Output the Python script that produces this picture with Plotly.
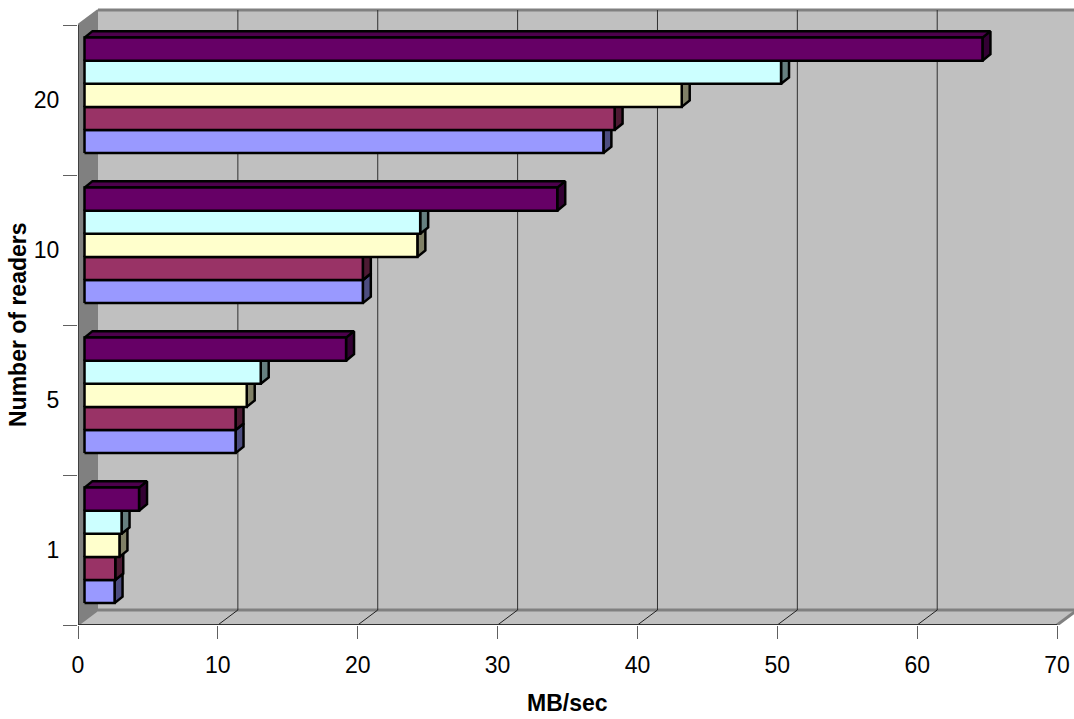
import plotly.graph_objects as go

# Throughput per reader count, one list per series (front to back = bottom to top of each group)
reader_labels = ["1", "5", "10", "20"]
series_a = [2.15, 10.8, 19.9, 37.1]
series_b = [2.2, 10.8, 19.9, 37.9]
series_c = [2.5, 11.6, 23.8, 42.7]
series_d = [2.65, 12.6, 24.0, 49.8]
series_e = [3.9, 18.7, 33.8, 64.2]
x_ticks = [0, 10, 20, 30, 40, 50, 60, 70]

faces = [
    (series_a, "#9999FF", "#7373BF", "#4D4D80"),
    (series_b, "#993366", "#732650", "#4D1A33"),
    (series_c, "#FFFFCC", "#BFBF99", "#808066"),
    (series_d, "#CCFFFF", "#99BFBF", "#668080"),
    (series_e, "#660066", "#4D004D", "#330033"),
]

# Oblique projection of the chart box and of each bar, in axis units
X_MAX, Y_MAX = 71.21, 4.1667
WALL_DX, WALL_DY = 1.43, 0.1
BAR_DX, BAR_DY = 0.57, 0.043
BAR_X0 = 0.465
GROUP_SHIFT = 0.031
BAR_H = 0.154

fig = go.Figure()


def poly(xs, ys, fill):
    fig.add_trace(go.Scatter(
        x=xs + xs[:1], y=ys + ys[:1], mode="lines", fill="toself", fillcolor=fill,
        line=dict(color="#000000", width=2.5), hoverinfo="skip", showlegend=False,
    ))


for k, (values, front, top, side) in enumerate(faces):
    for g, v in enumerate(values):
        y0 = g + 0.5 + GROUP_SHIFT + (k - 2.5) * BAR_H
        y1 = y0 + BAR_H
        x0, x1 = BAR_X0, BAR_X0 + v
        poly([x1, x1 + BAR_DX, x1 + BAR_DX, x1], [y0, y0 + BAR_DY, y1 + BAR_DY, y1], side)
        poly([x0, x0 + BAR_DX, x1 + BAR_DX, x1], [y1, y1 + BAR_DY, y1 + BAR_DY, y1], top)
        poly([x0, x1, x1, x0], [y0, y0, y1, y1], front)


def line(x0, y0, x1, y1, color, width):
    return dict(type="line", layer="below", x0=x0, y0=y0, x1=x1, y1=y1,
                line=dict(color=color, width=width))


def area(path, color):
    return dict(type="path", layer="below", path=path, fillcolor=color, line=dict(width=0))


top_y = 4 + WALL_DY
shapes = [
    area(f"M{WALL_DX},{WALL_DY} L{X_MAX},{WALL_DY} L{X_MAX},{top_y} L{WALL_DX},{top_y} Z", "#C0C0C0"),
    area(f"M0,0 L{WALL_DX},{WALL_DY} L{WALL_DX},{top_y} L0,4 Z", "#808080"),
    area(f"M0,0 L70,0 L{70 + WALL_DX},{WALL_DY} L{X_MAX},{WALL_DY} L{WALL_DX},{WALL_DY} Z", "#C0C0C0"),
    line(WALL_DX, top_y, X_MAX, top_y, "#808080", 3),
    line(WALL_DX, WALL_DY, X_MAX, WALL_DY, "#808080", 3),
    line(70, 0, 70 + WALL_DX, WALL_DY, "#808080", 3),
    line(0, 4, WALL_DX, top_y, "#808080", 2),
    line(0, 0, WALL_DX, WALL_DY, "#808080", 2),
]
for t in x_ticks[1:-1]:
    shapes.append(line(t + WALL_DX, WALL_DY, t + WALL_DX, top_y, "#303030", 1))
    shapes.append(line(t, 0, t + WALL_DX, WALL_DY, "#202020", 1))
shapes.append(line(0, 0, 0, 4, "#404040", 2))
shapes.append(line(0, 0, 70, 0, "#303030", 2))

fig.update_layout(
    width=1074, height=719,
    margin=dict(l=78, r=0, t=0, b=94),
    paper_bgcolor="#FFFFFF", plot_bgcolor="#FFFFFF",
    font=dict(family="Liberation Sans, Arial, sans-serif", size=23, color="#000000"),
    showlegend=False,
    shapes=shapes,
    xaxis=dict(
        range=[0, X_MAX], tickvals=x_ticks, ticktext=[str(t) for t in x_ticks],
        ticks="outside", ticklen=13, tickwidth=1, tickcolor="#606060",
        ticklabelstandoff=6,
        showgrid=False, zeroline=False, showline=False, fixedrange=True,
    ),
    yaxis=dict(
        range=[0, Y_MAX], tickvals=[0.5, 1.5, 2.5, 3.5], ticktext=reader_labels,
        ticks="outside", ticklen=13, tickcolor="rgba(0,0,0,0)",
        minor=dict(tickvals=[0, 1, 2, 3, 4], ticks="outside", ticklen=14, tickwidth=1,
                   tickcolor="#606060", showgrid=False),
        showgrid=False, zeroline=False, showline=False, fixedrange=True,
    ),
    annotations=[
        dict(text="<b>MB/sec</b>", x=35, y=0, xref="x", yref="y", yshift=-78,
             showarrow=False, font=dict(size=23)),
        dict(text="<b>Number of readers</b>", x=0, y=2, xref="x", yref="y", xshift=-60,
             textangle=-90, showarrow=False, font=dict(size=23)),
    ],
)

fig.write_html("out.html", config=dict(displayModeBar=False))
